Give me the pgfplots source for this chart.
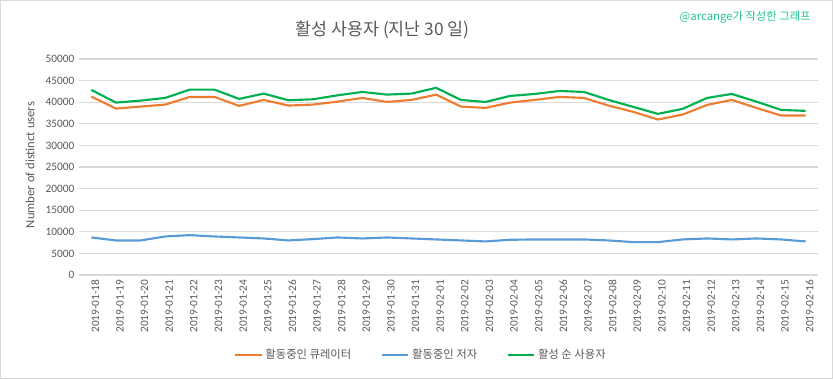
\documentclass[border=0pt]{standalone}
\usepackage{fontspec}
\usepackage{pgfplots}
\pgfplotsset{compat=1.18}
\setmainfont{Carlito}
\newfontfamily\kr{Noto Sans CJK KR}
\definecolor{cur}{HTML}{ED7D31}
\definecolor{aut}{HTML}{5B9BD5}
\definecolor{act}{HTML}{00B050}
\definecolor{txt}{HTML}{595959}
\definecolor{grd}{HTML}{D9D9D9}
\definecolor{credit}{HTML}{22C495}
\begin{document}
\begin{tikzpicture}
\path[use as bounding box] (0pt,0pt) rectangle (624.75pt,284.25pt);
\draw[grd] (0.5pt,0.5pt) rectangle (624.25pt,283.75pt);
\node[font=\kr\fontsize{13}{15}\selectfont, text=txt] at (287pt,261.5pt) {활성 사용자 (지난 30 일)};
\node[anchor=east, font=\kr\fontsize{8.5}{10}\selectfont, text=credit] at (611.5pt,271.5pt) {@arcange가 작성한 그래프};
\node[rotate=90, font=\fontsize{9.5}{11}\selectfont, text=txt] at (22.5pt,160.5pt) {Number of distinct users};
\begin{axis}[
  at={(59.25pt,78pt)}, anchor=south west,
  scale only axis, width=554.25pt, height=162pt,
  xmin=-0.5, xmax=29.5, ymin=0, ymax=50000,
  ytick={0,5000,...,50000},
  xtick={0,...,29},
  xticklabels={2019-01-18,2019-01-19,2019-01-20,2019-01-21,2019-01-22,2019-01-23,2019-01-24,2019-01-25,2019-01-26,2019-01-27,2019-01-28,2019-01-29,2019-01-30,2019-01-31,2019-02-01,2019-02-02,2019-02-03,2019-02-04,2019-02-05,2019-02-06,2019-02-07,2019-02-08,2019-02-09,2019-02-10,2019-02-11,2019-02-12,2019-02-13,2019-02-14,2019-02-15,2019-02-16},
  x tick label style={rotate=90, anchor=east, font=\fontsize{8.5}{10}\selectfont, text=txt, yshift=-3pt},
  y tick label style={font=\fontsize{8.5}{10}\selectfont, text=txt, /pgf/number format/1000 sep={}, /pgf/number format/assume math mode=true},
  scaled y ticks=false,
  axis line style={draw=none},
  tick style={draw=none},
  ymajorgrids, major grid style={grd, line width=0.8pt},
  legend style={draw=none, at={(0.463,-0.37)}, anchor=center, legend columns=3, font=\kr\fontsize{8.5}{10}\selectfont, text=txt, /tikz/every even column/.append style={column sep=20pt}},
  legend image code/.code={\draw[#1] (0pt,0pt) -- (20pt,0pt);},
  every axis plot/.append style={line width=1.6pt},
]
\addplot[cur] coordinates {(0,41300)(1,38530)(2,38990)(3,39450)(4,41220)(5,41220)(6,39140)(7,40530)(8,39220)(9,39450)(10,40140)(11,40990)(12,40060)(13,40530)(14,41760)(15,38990)(16,38680)(17,39910)(18,40530)(19,41220)(20,40990)(21,39220)(22,37760)(23,35990)(24,37140)(25,39370)(26,40530)(27,38680)(28,36910)(29,36910)};
\addlegendentry{활동중인 큐레이터}
\addplot[aut] coordinates {(0,8690)(1,8000)(2,8000)(3,8920)(4,9230)(5,8920)(6,8690)(7,8460)(8,8000)(9,8310)(10,8690)(11,8460)(12,8690)(13,8460)(14,8230)(15,8000)(16,7770)(17,8150)(18,8230)(19,8230)(20,8230)(21,8000)(22,7610)(23,7610)(24,8230)(25,8460)(26,8230)(27,8460)(28,8230)(29,7770)};
\addlegendentry{활동중인 저자}
\addplot[act] coordinates {(0,42850)(1,39910)(2,40370)(3,40990)(4,42910)(5,42910)(6,40760)(7,41990)(8,40450)(9,40680)(10,41600)(11,42370)(12,41760)(13,41990)(14,43330)(15,40530)(16,40060)(17,41450)(18,41910)(19,42600)(20,42370)(21,40530)(22,38910)(23,37300)(24,38450)(25,40990)(26,41910)(27,40140)(28,38220)(29,37990)};
\addlegendentry{활성 순 사용자}
\end{axis}
\end{tikzpicture}
\end{document}
